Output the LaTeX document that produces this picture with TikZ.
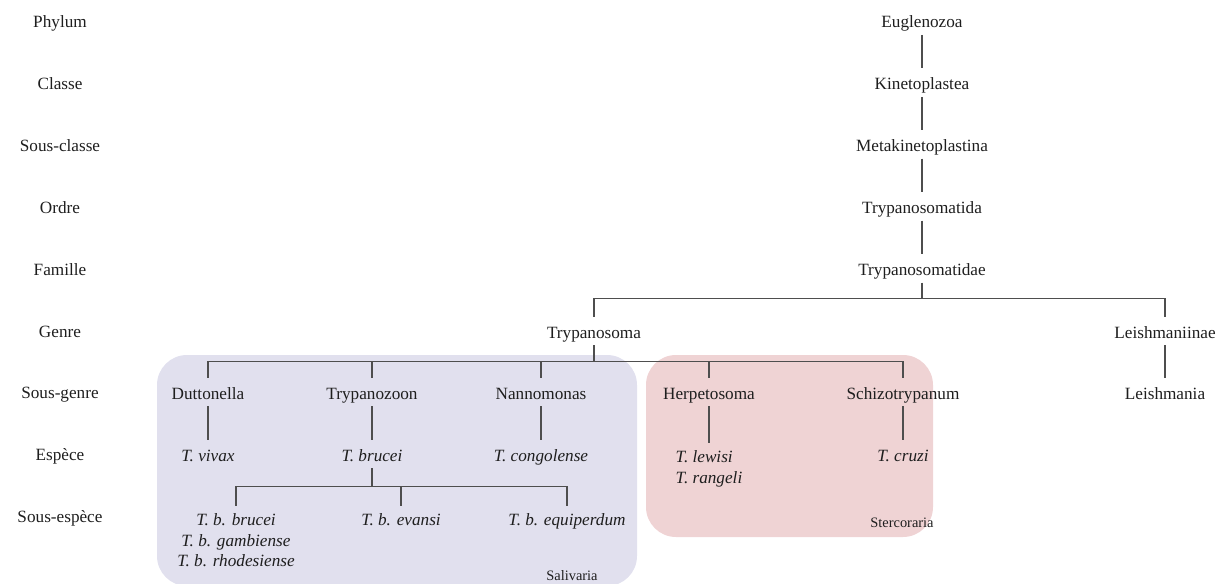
\documentclass[tikz,border=0pt]{standalone}
\usepackage{fontspec}
\setmainfont{Liberation Serif}
\definecolor{bleusal}{RGB}{225,224,238}
\definecolor{rougester}{RGB}{239,211,212}
\definecolor{trait}{RGB}{78,78,78}
\definecolor{encre}{RGB}{30,30,30}
\begin{document}
\begin{tikzpicture}[x=0.5pt, y=-0.5pt,
		taxon/.style={font=\fontsize{8.6}{10.2}\selectfont, text=encre, inner sep=1.5pt, text height=9pt, text depth=2pt},
		espece/.style={taxon, font=\fontsize{8.6}{10.2}\selectfont\itshape},
		liste/.style={font=\fontsize{8.6}{10.2}\selectfont\itshape, text=encre, inner xsep=1.5pt, inner ysep=3.8pt, anchor=north},
		groupe/.style={font=\fontsize{7.2}{8.5}\selectfont, text=encre, inner sep=1pt},
		lien/.style={draw=trait, line width=0.6pt}]
				\useasboundingbox (0,0) rectangle (1228,584);
				\fill[bleusal, rounded corners=15pt] (157,355) rectangle (637,586);
				\fill[rougester, rounded corners=15pt] (646,355) rectangle (933,537);
				\node[groupe] (sal) at (572,576) {Salivaria};
				\node[groupe] (ster) at (902,523) {Stercoraria};

				\foreach \rang [count=\i from 0] in {Phylum,Classe,Sous-classe,Ordre,Famille,Genre,Sous-genre,Espèce,Sous-espèce}
					{
						\node[taxon] (rang\i) at (60, 20.5+61.9*\i) {\rang};
					}

				\node[taxon] (eug) at (922,20.5) {Euglenozoa};
				\node[taxon] (kin) at (922,82.4) {Kinetoplastea};
				\node[taxon] (meta) at (922,144.3) {Metakinetoplastina};
				\node[taxon] (tryda) at (922,206.2) {Trypanosomatida};
				\node[taxon] (trydae) at (922,268.1) {Trypanosomatidae};
				\node[taxon] (tryp) at (594,331) {Trypanosoma};
				\node[taxon] (leishi) at (1165,331) {Leishmaniinae};
				\node[taxon] (leish) at (1165,392) {Leishmania};

				\node[taxon] (dutt) at (208,392) {Duttonella};
				\node[taxon] (trypz) at (372,392) {Trypanozoon};
				\node[taxon] (nann) at (541,392) {Nannomonas};
				\node[taxon] (herp) at (709,392) {Herpetosoma};
				\node[taxon] (schiz) at (903,392) {Schizotrypanum};

				\node[espece] (viv) at (208,454) {T. vivax};
				\node[espece] (bru) at (372,454) {T. brucei};
				\node[espece] (cong) at (541,454) {T. congolense};
				\node[liste, align=left] (lew) at (709,443) {T. lewisi\\T. rangeli};
				\node[espece] (cruz) at (903,454) {T. cruzi};

				\node[liste, align=center] (tbb) at (236,506) {T. b. brucei\\T. b. gambiense\\T. b. rhodesiense};
				\node[liste] (tbev) at (401,506) {T. b. evansi};
				\node[liste] (tbeq) at (567,506) {T. b. equiperdum};

				\draw[lien] (eug.south) -- (kin.north);
				\draw[lien] (kin.south) -- (meta.north);
				\draw[lien] (meta.south) -- (tryda.north);
				\draw[lien] (tryda.south) -- (trydae.north);
				\draw[lien] (trydae.south) -- ++(0,16) coordinate (fam);
				\draw[lien] (fam) -| (tryp.north);
				\draw[lien] (fam) -| (leishi.north);
				\draw[lien] (leishi.south) -- (leish.north);

				\draw[lien] (tryp.south) -- ++(0,16) coordinate (gen);
				\foreach \sg in {dutt,trypz,nann,herp,schiz}
					{
						\draw[lien] (gen) -| (\sg.north);
					}
				\draw[lien] (dutt.south) -- (viv.north);
				\draw[lien] (trypz.south) -- (bru.north);
				\draw[lien] (nann.south) -- (cong.north);
				\draw[lien] (herp.south) -- (lew.north);
				\draw[lien] (schiz.south) -- (cruz.north);

				\draw[lien] (bru.south) -- ++(0,18) coordinate (esp);
				\foreach \ss in {tbb,tbev,tbeq}
					{
						\draw[lien] (esp) -| (\ss.north);
					}
\end{tikzpicture}
\end{document}
